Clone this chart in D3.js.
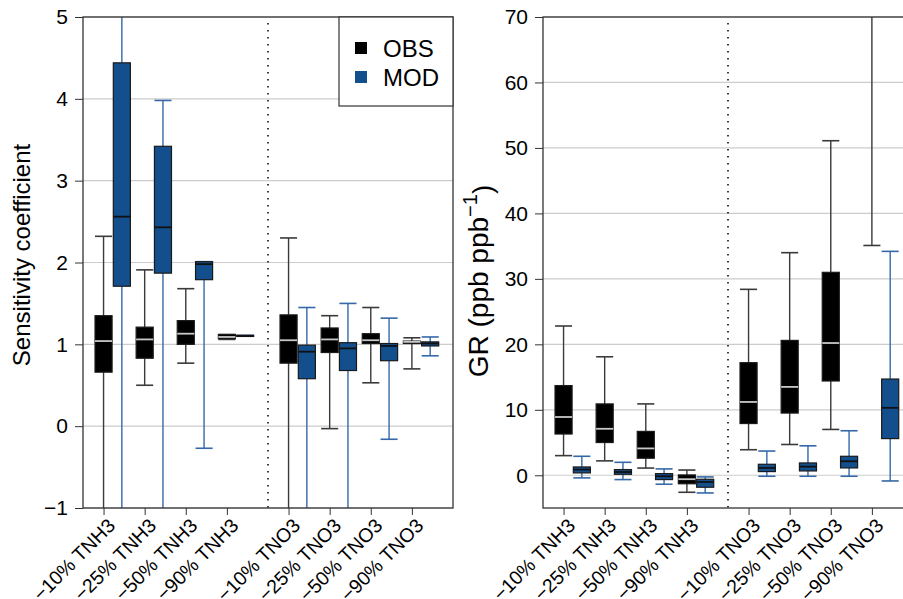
<!DOCTYPE html>
<html>
<head>
<meta charset="utf-8">
<script src="https://cdn.jsdelivr.net/npm/d3@7"></script>
<style>
  body { margin: 0; background: #fff; }
  svg text { font-family: "Liberation Sans", Arial, Helvetica, sans-serif; fill: #000; }
</style>
</head>
<body>
<svg id="chart" width="903" height="599"></svg>
<script>
// categories along the x axis (TNH3 group, then TNO3 group)
const categories = ["−10% TNH3", "−25% TNH3", "−50% TNH3", "−90% TNH3",
                    "−10% TNO3", "−25% TNO3", "−50% TNO3", "−90% TNO3"];

// box stats per category: [lower whisker, Q1, median, Q3, upper whisker]
// sensitivity coefficient panel
const scObs = [
  [-1.8, 0.66, 1.04, 1.35, 2.32],
  [0.50, 0.83, 1.06, 1.21, 1.91],
  [0.77, 1.00, 1.13, 1.29, 1.68],
  [1.06, 1.07, 1.09, 1.12, 1.12],
  [-1.5, 0.77, 1.05, 1.36, 2.30],
  [-0.03, 0.90, 1.06, 1.20, 1.35],
  [0.53, 1.01, 1.05, 1.13, 1.45],
  [0.70, 1.01, 1.03, 1.04, 1.08]
];
const scMod = [
  [-2.5, 1.71, 2.56, 4.44, 6.5],
  [-2.0, 1.87, 2.43, 3.42, 3.98],
  [-0.27, 1.79, 1.98, 2.01, 2.01],
  [1.10, 1.10, 1.10, 1.11, 1.11],
  [-1.6, 0.58, 0.91, 0.99, 1.45],
  [-1.3, 0.68, 0.95, 1.02, 1.50],
  [-0.16, 0.80, 0.98, 1.01, 1.32],
  [0.86, 0.98, 1.01, 1.03, 1.09]
];
// GR panel (ppb ppb-1)
const grObs = [
  [3.0, 6.3, 8.9, 13.7, 22.8],
  [2.2, 5.0, 7.1, 10.9, 18.1],
  [1.1, 2.6, 4.1, 6.7, 10.9],
  [-2.6, -1.3, -0.6, 0.05, 0.8],
  [3.9, 7.9, 11.2, 17.2, 28.4],
  [4.7, 9.5, 13.5, 20.6, 34.0],
  [7.0, 14.4, 20.2, 31.0, 51.1],
  [35.1, 75, 90, 110, 160]
];
const grMod = [
  [-0.4, 0.36, 0.87, 1.27, 2.9],
  [-0.66, 0.15, 0.5, 0.87, 1.98],
  [-1.37, -0.66, -0.15, 0.25, 0.97],
  [-2.7, -1.83, -1.02, -0.61, -0.25],
  [-0.15, 0.56, 1.12, 1.68, 3.7],
  [-0.15, 0.66, 1.32, 1.88, 4.5],
  [-0.15, 1.12, 2.14, 2.9, 6.8],
  [-0.87, 5.6, 10.3, 14.7, 34.2]
];

const scTicks = [-1, 0, 1, 2, 3, 4, 5];
const grTicks = [0, 10, 20, 30, 40, 50, 60, 70];

const legendItems = [
  { name: "OBS", color: "#000000" },
  { name: "MOD", color: "#134f8c" }
];

const svg = d3.select("#chart");
const plotTop = 17, plotBottom = 508, panelW = 370;

function drawPanel(left, yDomain, yTicks, obs, mod, id) {
  const g = svg.append("g").attr("transform", `translate(${left},0)`);
  const x = d3.scaleLinear().domain([-0.5, 8.5]).range([0, panelW]);
  const y = d3.scaleLinear().domain(yDomain).range([plotBottom, plotTop]);
  const pos = categories.map((c, i) => i < 4 ? i : i + 0.5);
  const bw = x(0.415) - x(0);
  const off = x(0.445) - x(0);

  g.append("clipPath").attr("id", id).append("rect")
    .attr("x", 0).attr("y", plotTop).attr("width", panelW).attr("height", plotBottom - plotTop);

  // grid
  g.selectAll(".grid").data(yTicks).enter().append("line")
    .attr("x1", 0).attr("x2", panelW)
    .attr("y1", d => y(d)).attr("y2", d => y(d))
    .attr("stroke", "#cccccc").attr("stroke-width", 1.2);

  // y axis
  const ya = g.append("g").call(d3.axisLeft(y).tickValues(yTicks).tickFormat(d3.format("d"))
    .tickSize(8).tickPadding(7));
  ya.select(".domain").remove();
  ya.selectAll("line").attr("stroke", "#333");
  ya.selectAll("text").style("font-size", "21px").attr("fill", "#000");

  // x axis ticks
  const xa = g.append("g").attr("transform", `translate(0,${plotBottom})`)
    .call(d3.axisBottom(x).tickValues(pos).tickSize(7).tickFormat(""));
  xa.select(".domain").remove();
  xa.selectAll("line").attr("stroke", "#333");

  g.selectAll(".xlab").data(categories).enter().append("text")
    .attr("transform", (d, i) => `translate(${x(pos[i]) + 8},${plotBottom + 14}) rotate(-45)`)
    .attr("text-anchor", "end")
    .attr("dy", "0.35em")
    .style("font-size", "19.5px")
    .text(d => d);

  // dotted separator
  g.append("line")
    .attr("x1", x(4)).attr("x2", x(4)).attr("y1", plotTop + 6).attr("y2", plotBottom)
    .attr("stroke", "#000").attr("stroke-width", 1.5).attr("stroke-dasharray", "1.5,5.5");

  const plot = g.append("g").attr("clip-path", `url(#${id})`);

  function boxes(data, dx, fill, wcol, mcol) {
    const b = plot.selectAll(null).data(data).enter().append("g")
      .attr("transform", (d, i) => `translate(${x(pos[i]) + dx},0)`);
    b.append("line").attr("y1", d => y(d[0])).attr("y2", d => y(d[1]))
      .attr("stroke", wcol).attr("stroke-width", 1.4);
    b.append("line").attr("y1", d => y(d[3])).attr("y2", d => y(d[4]))
      .attr("stroke", wcol).attr("stroke-width", 1.4);
    [0, 4].forEach(k => {
      b.append("line").attr("x1", -bw / 2).attr("x2", bw / 2)
        .attr("y1", d => y(d[k])).attr("y2", d => y(d[k]))
        .attr("stroke", wcol).attr("stroke-width", 1.6);
    });
    b.append("rect").attr("x", -bw / 2).attr("width", bw)
      .attr("y", d => y(d[3])).attr("height", d => Math.max(1, y(d[1]) - y(d[3])))
      .attr("fill", fill).attr("stroke", "#1a1a1a").attr("stroke-width", 1.2);
    b.append("line").attr("x1", -bw / 2).attr("x2", bw / 2)
      .attr("y1", d => y(d[2])).attr("y2", d => y(d[2]))
      .attr("stroke", mcol).attr("stroke-width", 1.8);
  }
  boxes(obs, 0, legendItems[0].color, "#3a3a3a", "#c8c8c8");
  boxes(mod, off, legendItems[1].color, "#3468a8", "#111111");

  // frame
  g.append("rect").attr("x", 0).attr("y", plotTop).attr("width", panelW).attr("height", plotBottom - plotTop)
    .attr("fill", "none").attr("stroke", "#333").attr("stroke-width", 1.3);
  return g;
}

const gl = drawPanel(83, [-1, 5], scTicks, scObs, scMod, "clipL");
const gr = drawPanel(543, [-5, 70], grTicks, grObs, grMod, "clipR");

// legend
const lg = gl.append("g").attr("transform", `translate(${256},${plotTop})`);
lg.append("rect").attr("width", 114).attr("height", 89)
  .attr("fill", "#fff").attr("stroke", "#333").attr("stroke-width", 1.2);
legendItems.forEach((it, i) => {
  lg.append("rect").attr("x", 16).attr("y", 25 + i * 29).attr("width", 12).attr("height", 12)
    .attr("fill", it.color);
  lg.append("text").attr("x", 44).attr("y", 31 + i * 29).attr("dy", "0.36em")
    .style("font-size", "24px").text(it.name);
});

// axis titles
svg.append("text").attr("transform", "translate(30,255) rotate(-90)")
  .attr("text-anchor", "middle").style("font-size", "24px")
  .text("Sensitivity coefficient");

const t2 = svg.append("text").attr("transform", "translate(488,281) rotate(-90)")
  .attr("text-anchor", "middle").style("font-size", "28px");
t2.append("tspan").text("GR (ppb ppb");
t2.append("tspan").attr("dy", "-0.55em").style("font-size", "20px").text("−1");
t2.append("tspan").attr("dy", "0.55em").text(")");
</script>
</body>
</html>
